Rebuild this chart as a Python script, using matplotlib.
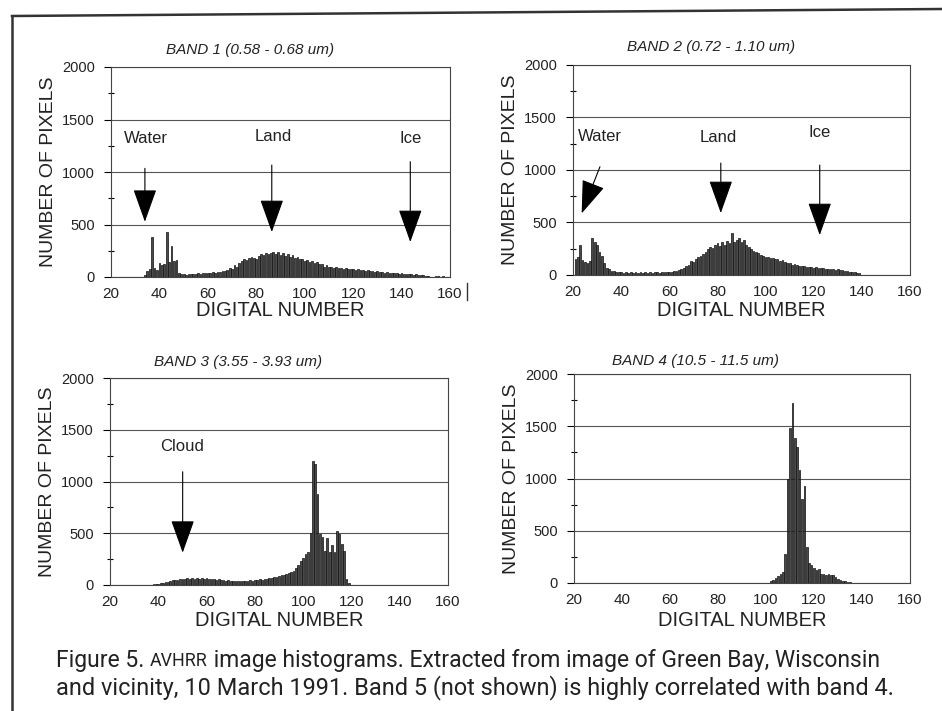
import matplotlib
matplotlib.use("Agg")
import matplotlib.pyplot as plt
from matplotlib.ticker import MultipleLocator
from matplotlib.lines import Line2D
import numpy as np

# ---------------- data ----------------
band1_start = 34
band1_counts = [20, 60, 80, 385, 90, 70, 130, 110, 120, 430, 140, 295, 150, 160,
                40, 30, 25, 20, 25, 30, 25, 30, 35, 30, 35, 40, 35, 40, 45, 40,
                50, 45, 55, 60, 70, 90, 80, 110, 100, 130, 150, 170, 160, 180,
                190, 185, 175, 200, 220, 210, 225, 215, 230, 240, 220, 235, 210,
                225, 200, 215, 190, 205, 180, 190, 170, 175, 150, 160, 145, 150,
                130, 140, 120, 125, 100, 110, 95, 100, 90, 95, 85, 90, 80, 85,
                80, 75, 80, 70, 75, 65, 70, 60, 65, 55, 60, 50, 55, 45, 50, 40,
                45, 40, 35, 40, 35, 30, 35, 30, 25, 30, 25, 20, 25, 20, 15, 15,
                10, 5, 0, 0, 12, 10, 0, 5]

band2_start = 21
band2_counts = [150, 170, 290, 140, 120, 110, 130, 350, 310, 290, 220, 180, 110,
                70, 60, 40, 35, 30, 25, 30, 20, 25, 20, 25, 20, 25, 20, 25, 20,
                25, 20, 25, 20, 25, 25, 20, 25, 25, 30, 25, 30, 35, 40, 45, 60,
                70, 90, 100, 130, 120, 150, 170, 180, 200, 220, 250, 270, 260,
                290, 300, 280, 310, 290, 320, 300, 400, 310, 330, 350, 310, 330,
                290, 270, 250, 230, 220, 210, 190, 180, 170, 175, 160, 165, 150,
                155, 130, 140, 120, 110, 115, 100, 105, 95, 90, 85, 90, 80, 75,
                80, 70, 75, 70, 65, 70, 60, 60, 55, 55, 50, 55, 50, 45, 40, 35,
                30, 30, 25, 20, 20]

band3_start = 38
band3_counts = [5, 8, 10, 15, 20, 25, 30, 40, 45, 50, 45, 55, 60, 55, 65, 60, 70,
                60, 65, 60, 70, 55, 65, 60, 55, 60, 50, 55, 45, 50, 40, 45, 40,
                35, 40, 35, 40, 35, 40, 35, 45, 40, 50, 45, 55, 50, 60, 55, 65,
                70, 75, 80, 85, 95, 100, 110, 120, 130, 140, 160, 190, 230, 260,
                300, 320, 500, 1200, 1170, 880, 490, 460, 330, 450, 320, 390, 320,
                520, 490, 400, 330, 60, 20]

band4_start = 102
band4_counts = [15, 25, 50, 70, 90, 110, 280, 1000, 1480, 1720, 1390, 1300, 1080,
                800, 930, 340, 190, 170, 140, 120, 135, 90, 85, 80, 85, 75, 80,
                60, 40, 30, 20, 15, 10, 5]

titles = ["BAND 1 (0.58 - 0.68 um)", "BAND 2 (0.72 - 1.10 um)",
          "BAND 3 (3.55 - 3.93 um)", "BAND 4 (10.5 - 11.5 um)"]
x_ticks = [20, 40, 60, 80, 100, 120, 140, 160]
y_ticks = [0, 500, 1000, 1500, 2000]

# annotations: label, text (x, y), arrow start (x, y), arrow tip (x, y)
ann_band1 = [("Water", (34.4, 1320), (34.0, 1035), (34.0, 526)),
             ("Land", (87.1, 1336), (86.4, 1066), (86.4, 428)),
             ("Ice", (143.6, 1323), (143.6, 1098), (143.6, 333))]
ann_band2 = [("Water", (31.2, 1317), (31.2, 1031), (23.6, 587)),
             ("Land", (80.2, 1314), (81.4, 1066), (81.4, 590)),
             ("Ice", (122.5, 1361), (122.5, 1047), (122.5, 380))]
ann_band3 = [("Cloud", (50.0, 1336), (50.1, 1094), (50.1, 312))]
ann_band4 = []

caption_1a = "Figure 5. "
caption_1b = "AVHRR"
caption_1c = " image histograms. Extracted from image of Green Bay, Wisconsin"
caption_2 = "and vicinity, 10 March 1991. Band 5 (not shown) is highly correlated with band 4."

# ---------------- layout ----------------
W, H = 942, 711
fig = plt.figure(figsize=(W / 100, H / 100), dpi=100)
fig.patch.set_facecolor("white")
FONT = ["Liberation Sans", "DejaVu Sans"]


def px_axes(left, top, right, bottom):
    return fig.add_axes([left / W, 1 - bottom / H, (right - left) / W, (bottom - top) / H])


panels = [
    dict(box=(111, 67, 450, 277), start=band1_start, cnt=band1_counts, ann=ann_band1,
         title_xy=(250, 50), xlab_y=311),
    dict(box=(573, 65, 910, 275), start=band2_start, cnt=band2_counts, ann=ann_band2,
         title_xy=(711, 47), xlab_y=310),
    dict(box=(110, 378, 448, 585), start=band3_start, cnt=band3_counts, ann=ann_band3,
         title_xy=(238, 362), xlab_y=621),
    dict(box=(574, 374, 910, 583), start=band4_start, cnt=band4_counts, ann=ann_band4,
         title_xy=(695, 361), xlab_y=620),
]

for i, p in enumerate(panels):
    l, t, r, b = p["box"]
    ax = px_axes(l, t, r, b)
    ax.set_xlim(20, 160)
    ax.set_ylim(0, 2000)
    ax.set_yticks(y_ticks)
    ax.set_xticks(x_ticks)
    ax.yaxis.set_minor_locator(MultipleLocator(250))
    ax.tick_params(axis="y", which="major", length=5, width=0.8, pad=6.5,
                   labelsize=10.5, direction="out")
    ax.tick_params(axis="y", which="minor", length=4, width=0.8, direction="inout")
    ax.tick_params(axis="x", length=0, pad=7.5, labelsize=11)
    for lab in ax.get_xticklabels() + ax.get_yticklabels():
        lab.set_family(FONT)
        lab.set_color("#222222")
    for s in ax.spines.values():
        s.set_color("#444444")
        s.set_linewidth(0.8)
    ax.grid(axis="y", color="#555555", linewidth=0.8)
    ax.set_axisbelow(True)
    dn = np.arange(p["start"], p["start"] + len(p["cnt"]))
    ax.bar(dn, p["cnt"], width=0.72, color="#4a4a4a", edgecolor="#111111",
           linewidth=0.5, zorder=3)
    for label, txy, a0, a1 in p["ann"]:
        ax.text(txy[0], txy[1], label, ha="center", va="center", fontsize=12,
                family=FONT, color="#222222", zorder=5)
        ax.annotate("", xy=a1, xytext=a0,
                    arrowprops=dict(arrowstyle="-|>,head_length=2.1,head_width=0.75",
                                    mutation_scale=10, lw=0.8, color="black",
                                    shrinkA=0, shrinkB=0), zorder=5)
    ax.set_ylabel("NUMBER OF PIXELS", fontsize=14, family=FONT, color="#222222",
                  labelpad=4)
    fig.text(p["title_xy"][0] / W, 1 - p["title_xy"][1] / H, titles[i],
             ha="center", va="center", fontsize=11, style="italic",
             family=FONT, color="#222222")
    fig.text(((l + r) / 2) / W, 1 - p["xlab_y"] / H, "DIGITAL NUMBER",
             ha="center", va="center", fontsize=14.5, family=FONT, color="#222222")

# page frame lines
fig.add_artist(Line2D([12 / W, 1.0], [1 - 16 / H, 1 - 9 / H], color="#333333", lw=1.8))
fig.add_artist(Line2D([12 / W, 12 / W], [1 - 16 / H, 0.0], color="#333333", lw=1.8))
fig.add_artist(Line2D([467 / W, 467 / W], [1 - 283 / H, 1 - 300 / H], color="#333333", lw=1.0))

# caption
CAP = ["Roboto", "DejaVu Sans"]
renderer = fig.canvas.get_renderer()
cap_size = 13.5
t2 = fig.text(56 / W, 1 - 688 / H, caption_2, ha="left", va="center",
              fontsize=cap_size, family=CAP, color="#222222")
w2 = t2.get_window_extent(renderer).width
t2.set_fontsize(cap_size * 837 / w2)

# first line, fitted to its own width
y1 = 1 - 661 / H
ta = fig.text(56 / W, y1, caption_1a, ha="left", va="center",
              fontsize=cap_size, family=CAP, color="#222222")
tb = fig.text(0, y1, caption_1b, ha="left", va="center",
              fontsize=cap_size * 0.78, family=CAP, color="#222222")
tc = fig.text(0, y1, caption_1c, ha="left", va="center",
              fontsize=cap_size, family=CAP, color="#222222")
total = sum(t.get_window_extent(renderer).width for t in (ta, tb, tc))
s1 = cap_size * 824 / total
ta.set_fontsize(s1)
tb.set_fontsize(s1 * 0.78)
tc.set_fontsize(s1)
xa = ta.get_window_extent(renderer).x1
tb.set_x(xa / W)
xb = tb.get_window_extent(renderer).x1
tc.set_x(xb / W)

fig.savefig("out.png", dpi=100, facecolor="white")
